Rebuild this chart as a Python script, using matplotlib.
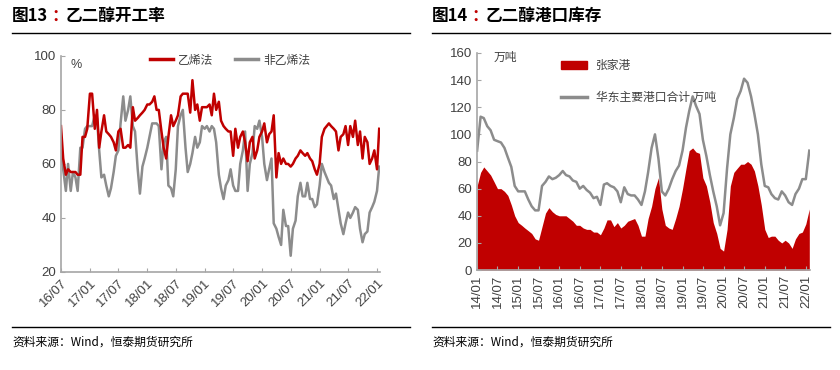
import pandas as pd
import matplotlib.pyplot as plt
import matplotlib.dates as mdates
from matplotlib.lines import Line2D
from matplotlib.patches import Patch

plt.rcParams['font.family'] = ['Liberation Sans', 'Noto Sans CJK SC', 'DejaVu Sans']

# 图13 乙二醇开工率 (semi-monthly readings, %)
rate_dates = pd.date_range('2016-07-01', periods=134, freq='SMS')
ethylene = [
    74, 62, 56, 58, 57, 57, 57, 56, 56, 70, 70, 73,
    86, 86, 73, 80, 66, 72, 78, 72, 71, 70, 68, 65, 72, 73, 66, 66, 67, 66, 81, 76, 77, 78, 79, 80,
    82, 82, 83, 85, 80, 80, 72, 66, 62, 70, 78, 74, 76, 78, 85, 86, 86, 86, 79, 91, 80, 82, 76, 81,
    81, 81, 82, 78, 86, 80, 83, 76, 74, 73, 72, 72, 63, 73, 66, 70, 72, 68, 61, 68, 70, 62, 65, 70,
    72, 75, 68, 71, 72, 78, 55, 64, 60, 62, 60, 60, 59, 60, 62, 63, 65, 64, 63, 64, 62, 61, 58, 56,
    60, 70, 73, 74, 75, 74, 73, 72, 65, 70, 71, 74, 67, 74, 70, 76, 67, 72, 62, 70, 68, 60, 62, 65,
    58, 73,
]
non_ethylene = [
    65, 58, 50, 60, 50, 57, 55, 50, 66, 66, 73, 74,
    74, 74, 78, 77, 65, 55, 56, 52, 48, 51, 57, 63, 65, 75, 85, 76, 80, 85, 74, 72, 58, 49, 59, 62,
    66, 70, 75, 75, 75, 74, 58, 68, 70, 52, 51, 48, 58, 74, 78, 80, 66, 57, 60, 64, 70, 66, 68, 74,
    73, 74, 72, 74, 73, 68, 56, 51, 47, 52, 54, 58, 52, 50, 50, 60, 65, 72, 50, 60, 64, 74, 73, 76,
    70, 60, 54, 58, 62, 38, 36, 33, 30, 43, 37, 37, 26, 36, 39, 48, 53, 48, 48, 53, 47, 47, 44, 45,
    52, 60, 57, 55, 53, 52, 47, 49, 43, 38, 34, 38, 42, 40, 42, 44, 43, 36, 31, 34, 35, 42, 44, 46,
    50, 59,
]

# 图14 乙二醇港口库存 (monthly readings, 万吨)
stock_dates = pd.date_range('2014-01-01', periods=98, freq='MS')
zhangjiagang = [
    62, 72, 76, 73, 70, 65, 60, 60, 58, 55, 48, 40,
    35, 33, 31, 29, 27, 23, 22, 32, 42, 46, 43, 41,
    40, 40, 40, 38, 36, 33, 33, 31, 30, 30, 28, 28,
    26, 31, 37, 37, 32, 35, 31, 33, 36, 37, 38, 33,
    25, 25, 38, 47, 60, 68, 45, 33, 31, 30, 38, 47,
    60, 75, 88, 90, 87, 86, 68, 62, 50, 35, 27, 16,
    14, 30, 62, 72, 75, 78, 78, 80, 78, 73, 62, 48,
    30, 24, 25, 25, 22, 20, 22, 20, 16, 23, 27, 28,
    34, 45,
]
east_china = [
    88, 113, 112, 106, 103, 96, 95, 94, 90, 83, 76, 62,
    58, 58, 58, 52, 47, 44, 44, 62, 65, 69, 67, 68,
    70, 73, 70, 69, 66, 65, 60, 62, 59, 57, 53, 54,
    48, 63, 64, 62, 61, 58, 50, 61, 56, 55, 55, 52,
    48, 58, 72, 90, 100, 82, 58, 55, 60, 67, 73, 77,
    88, 105, 117, 128, 121, 115, 96, 84, 70, 58, 47, 33,
    42, 75, 100, 112, 126, 132, 141, 138, 128, 115, 100, 78,
    62, 61, 56, 53, 52, 58, 55, 50, 48, 56, 60, 67,
    67, 88,
]

RED = '#C00000'
GRAY = '#8C8C8C'
TXT = '#404040'
CJK = ['Noto Sans CJK SC', 'DejaVu Sans']

fig = plt.figure(figsize=(8.4, 3.7), dpi=100)

# titles, rules and sources
for x0, x1, num, name in [(12, 410, '图13', '乙二醇开工率'), (432, 830, '图14', '乙二醇港口库存')]:
    fig.text(x0 / 840, 0.957, num, fontsize=12, fontweight='bold', family=CJK, va='center')
    fig.text((x0 + 39) / 840, 0.957, '：', fontsize=12, fontweight='bold', color=RED,
             family=CJK, va='center')
    fig.text((x0 + 54) / 840, 0.957, name, fontsize=12, fontweight='bold', family=CJK, va='center')
    fig.add_artist(Line2D([x0 / 840, x1 / 840], [0.911, 0.911], color='black', lw=1,
                          transform=fig.transFigure))
    fig.add_artist(Line2D([x0 / 840, x1 / 840], [0.116, 0.116], color='black', lw=1,
                          transform=fig.transFigure))
    fig.text(x0 / 840, 0.076, '资料来源：Wind，恒泰期货研究所', fontsize=8.5, family=CJK, va='center')


def style_axes(ax):
    for s in ['top', 'right']:
        ax.spines[s].set_visible(False)
    for s in ['left', 'bottom']:
        ax.spines[s].set_color('#A6A6A6')
        ax.spines[s].set_linewidth(1.2)
    ax.tick_params(direction='in', colors='#A6A6A6', length=3, labelcolor=TXT, labelsize=9.5)


# left chart
ax1 = fig.add_axes([0.0726, 0.265, 0.3794, 0.584])
ax1.plot(rate_dates, non_ethylene, color=GRAY, lw=1.8, label='非乙烯法')
ax1.plot(rate_dates, ethylene, color=RED, lw=1.8, label='乙烯法')
ax1.set_ylim(20, 100)
ax1.set_yticks(range(20, 101, 20))
ax1.set_xlim(pd.Timestamp('2016-07-01'), pd.Timestamp('2022-01-18'))
ax1.xaxis.set_major_locator(mdates.MonthLocator(bymonth=[1, 7]))
ax1.xaxis.set_major_formatter(mdates.DateFormatter('%y/%m'))
style_axes(ax1)
for lab in ax1.get_xticklabels():
    lab.set_rotation(45)
    lab.set_ha('right')
    lab.set_rotation_mode('anchor')
ax1.text(0.03, 0.985, '%', transform=ax1.transAxes, fontsize=9, color=TXT, va='top')
h1 = [Line2D([], [], color=RED, lw=2.5), Line2D([], [], color=GRAY, lw=2.5)]
ax1.legend(h1, ['乙烯法', '非乙烯法'], loc='upper center', bbox_to_anchor=(0.53, 1.06), ncol=2,
           frameon=False, handlelength=2.0, columnspacing=1.8, handletextpad=0.4,
           prop={'family': CJK, 'size': 8.5}, labelcolor=TXT)

# right chart
ax2 = fig.add_axes([0.568, 0.270, 0.396, 0.587])
ax2.fill_between(stock_dates, zhangjiagang, 0, color=RED, lw=0)
ax2.plot(stock_dates, east_china, color=GRAY, lw=1.8)
ax2.set_ylim(0, 160)
ax2.set_yticks(range(0, 161, 20))
ax2.set_xlim(pd.Timestamp('2014-01-01'), pd.Timestamp('2022-02-05'))
ax2.xaxis.set_major_locator(mdates.MonthLocator(bymonth=[1, 7]))
ax2.xaxis.set_major_formatter(mdates.DateFormatter('%y/%m'))
style_axes(ax2)
for lab in ax2.get_xticklabels():
    lab.set_rotation(90)
ax2.text(0.05, 1.01, '万吨', transform=ax2.transAxes, fontsize=8.5, color=TXT, va='top', family=CJK)
h2 = [Patch(color=RED), Line2D([], [], color=GRAY, lw=2.5)]
ax2.legend(h2, ['张家港', '华东主要港口合计 万吨'], loc='upper left', bbox_to_anchor=(0.22, 1.02),
           frameon=False, handlelength=2.2, labelspacing=1.6,
           prop={'family': CJK, 'size': 8.5}, labelcolor=TXT)

fig.savefig('out.png', dpi=100)
